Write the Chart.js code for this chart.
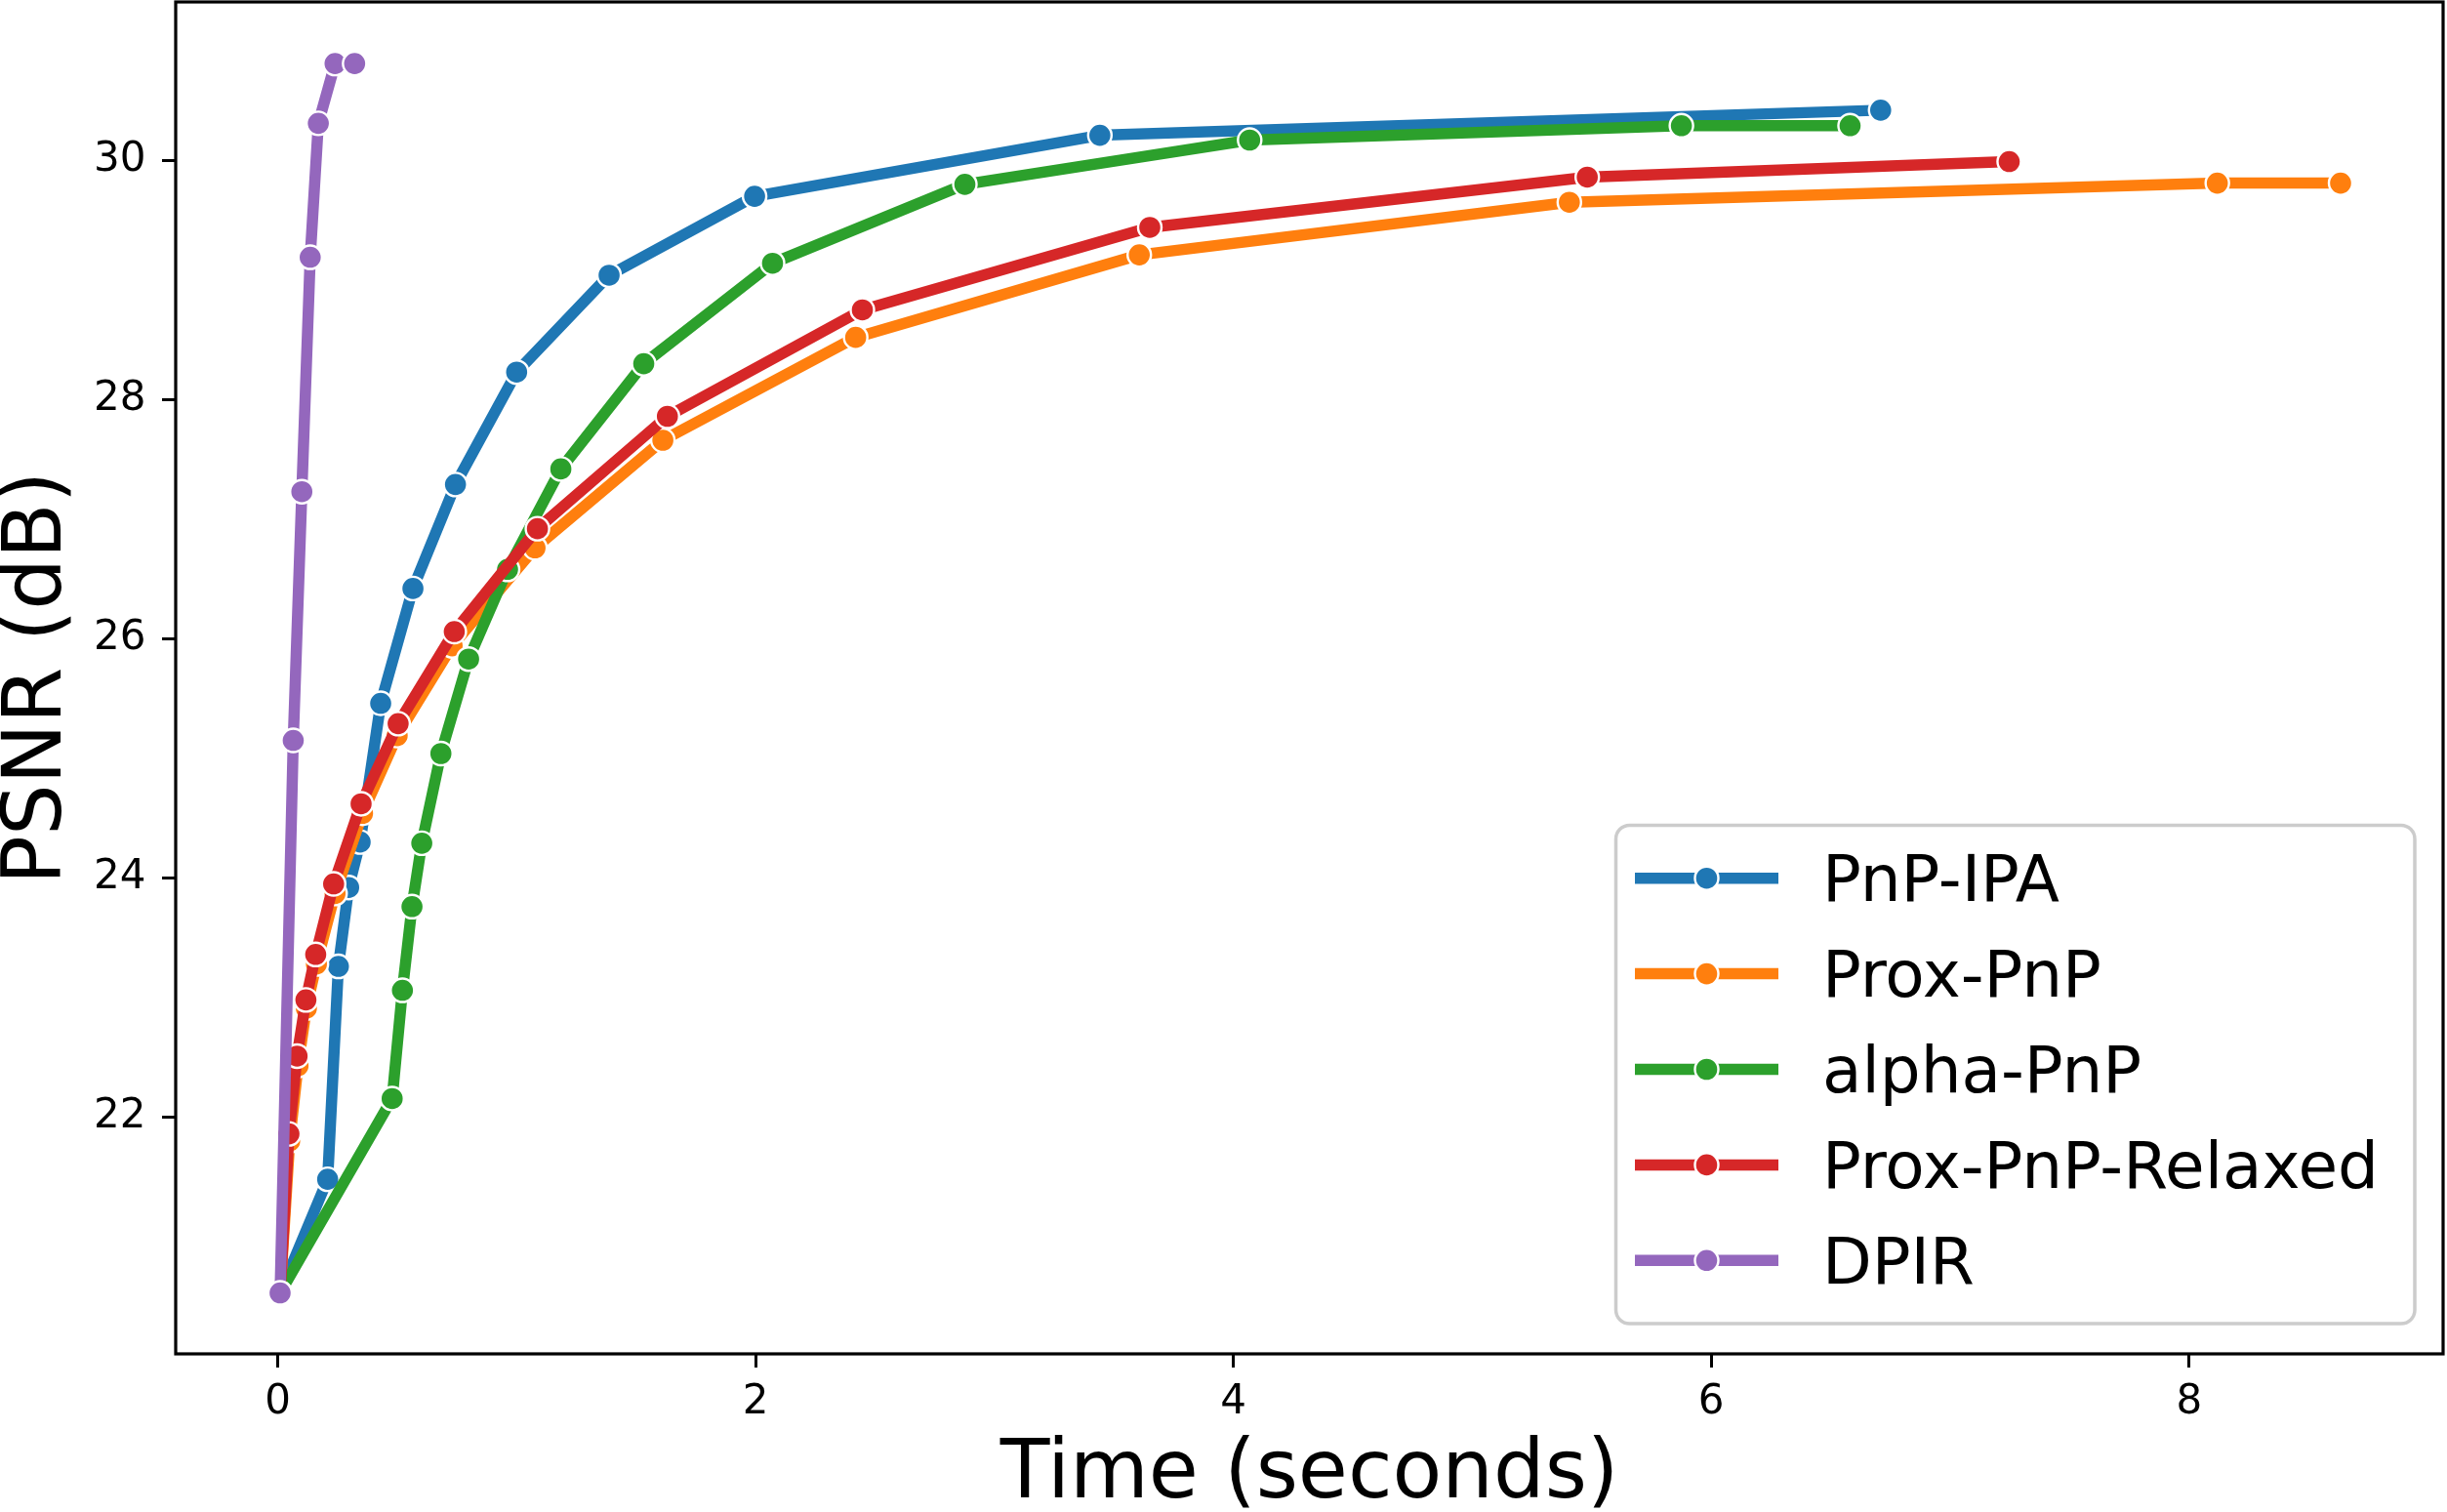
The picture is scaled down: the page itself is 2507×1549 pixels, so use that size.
<!DOCTYPE html>
<html><head><meta charset="utf-8">
<script src="https://cdn.jsdelivr.net/npm/chart.js@4.4.0/dist/chart.umd.min.js"></script>
<style>html,body{margin:0;padding:0;background:#fff;overflow:hidden}canvas{display:block}</style>
</head><body>
<canvas id="c" width="2507" height="1549"></canvas>
<script>
// ---- data ----
const seriesNames = ['PnP-IPA', 'Prox-PnP', 'alpha-PnP', 'Prox-PnP-Relaxed', 'DPIR'];
const ipaTime  = [0.01, 0.209, 0.254, 0.297, 0.345, 0.431, 0.566, 0.744, 1.0, 1.387, 1.996, 3.441, 6.709];
const ipaPsnr  = [20.53, 21.48, 23.26, 23.92, 24.30, 25.46, 26.42, 27.29, 28.23, 29.04, 29.70, 30.21, 30.42];
const proxTime = [0.01, 0.05, 0.085, 0.12, 0.162, 0.24, 0.355, 0.50, 0.73, 1.077, 1.612, 2.419, 3.606, 5.406, 8.118, 8.634];
const proxPsnr = [20.53, 21.80, 22.43, 22.91, 23.28, 23.87, 24.54, 25.19, 25.94, 26.76, 27.66, 28.52, 29.21, 29.65, 29.81, 29.81];
const alphaTime = [0.01, 0.479, 0.522, 0.562, 0.603, 0.683, 0.799, 0.962, 1.185, 1.532, 2.071, 2.876, 4.068, 5.875, 6.581];
const alphaPsnr = [20.53, 22.155, 23.06, 23.76, 24.29, 25.04, 25.83, 26.58, 27.42, 28.30, 29.14, 29.80, 30.17, 30.29, 30.29];
const relaxTime = [0.01, 0.047, 0.081, 0.118, 0.159, 0.234, 0.349, 0.504, 0.739, 1.087, 1.631, 2.447, 3.650, 5.481, 7.247];
const relaxPsnr = [20.53, 21.86, 22.51, 22.98, 23.36, 23.95, 24.62, 25.29, 26.06, 26.92, 27.86, 28.75, 29.44, 29.86, 29.99];
const dpirTime = [0.01, 0.065, 0.101, 0.136, 0.170, 0.240, 0.322];
const dpirPsnr = [20.53, 25.15, 27.23, 29.19, 30.31, 30.81, 30.81];
const xTicks = [0, 2, 4, 6, 8];
const yTicks = [22, 24, 26, 28, 30];

// ---- styles ----
const colors = ['#1f77b4', '#ff7f0e', '#2ca02c', '#d62728', '#9467bd'];
const seriesX = [ipaTime, proxTime, alphaTime, relaxTime, dpirTime];
const seriesY = [ipaPsnr, proxPsnr, alphaPsnr, relaxPsnr, dpirPsnr];

Chart.defaults.font.family = "'DejaVu Sans', sans-serif";
Chart.defaults.color = '#000';

const datasets = seriesNames.map((name, i) => ({
  label: name,
  data: seriesX[i].map((t, k) => ({x: t, y: seriesY[i][k]})),
  borderColor: colors[i],
  backgroundColor: colors[i],
  borderWidth: 11.5,
  borderJoinStyle: 'round',
  borderCapStyle: 'butt',
  pointRadius: 12,
  pointHoverRadius: 12,
  pointBackgroundColor: colors[i],
  pointBorderColor: '#ffffff',
  pointBorderWidth: 2.4,
  tension: 0,
  fill: false,
  order: seriesNames.length - i
}));

const framePlugin = {
  id: 'frame',
  afterDatasetsDraw(chart) {
    const {ctx, chartArea: a} = chart;
    ctx.save();
    ctx.strokeStyle = '#000';
    ctx.lineWidth = 3.2;
    ctx.strokeRect(a.left, a.top, a.right - a.left, a.bottom - a.top);
    ctx.restore();
  }
};

const legendPlugin = {
  id: 'mplLegend',
  afterDraw(chart) {
    const {ctx, chartArea: a} = chart;
    const w = 818.5, h = 510.5;
    const x1 = a.right - 29, y1 = a.bottom - 31;
    const x0 = x1 - w, y0 = y1 - h;
    const r = 14;
    ctx.save();
    ctx.beginPath();
    ctx.moveTo(x0 + r, y0);
    ctx.lineTo(x1 - r, y0);
    ctx.arcTo(x1, y0, x1, y0 + r, r);
    ctx.lineTo(x1, y1 - r);
    ctx.arcTo(x1, y1, x1 - r, y1, r);
    ctx.lineTo(x0 + r, y1);
    ctx.arcTo(x0, y1, x0, y1 - r, r);
    ctx.lineTo(x0, y0 + r);
    ctx.arcTo(x0, y0, x0 + r, y0, r);
    ctx.closePath();
    ctx.fillStyle = 'rgba(255,255,255,0.8)';
    ctx.fill();
    ctx.strokeStyle = '#cccccc';
    ctx.lineWidth = 3.5;
    ctx.stroke();
    chart.data.datasets.forEach((ds, i) => {
      const cy = y0 + 54.2 + i * 97.9;
      ctx.beginPath();
      ctx.moveTo(x0 + 19.5, cy);
      ctx.lineTo(x0 + 166.5, cy);
      ctx.strokeStyle = ds.borderColor;
      ctx.lineWidth = ds.borderWidth;
      ctx.lineCap = 'butt';
      ctx.stroke();
      ctx.beginPath();
      ctx.arc(x0 + 93, cy, ds.pointRadius, 0, Math.PI * 2);
      ctx.fillStyle = ds.pointBackgroundColor;
      ctx.fill();
      ctx.strokeStyle = ds.pointBorderColor;
      ctx.lineWidth = ds.pointBorderWidth;
      ctx.stroke();
      ctx.fillStyle = '#000';
      ctx.font = "66px 'DejaVu Sans'";
      ctx.textAlign = 'left';
      ctx.textBaseline = 'alphabetic';
      ctx.fillText(ds.label, x0 + 211.5, cy + 23.5);
    });
    ctx.restore();
  }
};

new Chart(document.getElementById('c'), {
  type: 'line',
  data: {datasets},
  plugins: [framePlugin, legendPlugin],
  options: {
    responsive: false,
    animation: false,
    events: [],
    layout: {autoPadding: false, padding: {top: 2, right: 4, left: 0, bottom: 0}},
    plugins: {legend: {display: false}, tooltip: {enabled: false}},
    scales: {
      x: {
        type: 'linear',
        min: -0.427,
        max: 9.063,
        afterBuildTicks: s => { s.ticks = xTicks.map(v => ({value: v})); },
        afterFit: s => { s.height = 162; s.paddingLeft = 0; s.paddingRight = 0; },
        border: {display: false},
        grid: {display: true, drawOnChartArea: false, drawTicks: true, tickLength: 14, tickWidth: 3, tickColor: '#000'},
        ticks: {font: {size: 42}, color: '#000', padding: 10.5, maxRotation: 0},
        title: {display: true, text: 'Time (seconds)', font: {size: 83, lineHeight: 0.88}, color: '#000', padding: {top: 0, bottom: 0}}
      },
      y: {
        type: 'linear',
        min: 20.02,
        max: 31.325,
        afterBuildTicks: s => { s.ticks = yTicks.map(v => ({value: v})); },
        afterFit: s => { s.width = 180; s.paddingTop = 0; s.paddingBottom = 0; },
        border: {display: false},
        grid: {display: true, drawOnChartArea: false, drawTicks: true, tickLength: 14, tickWidth: 3, tickColor: '#000'},
        ticks: {font: {size: 42}, color: '#000', padding: 16.5},
        title: {display: true, text: 'PSNR (dB)', font: {size: 83, lineHeight: 0.88}, color: '#000', padding: {top: 4, bottom: 0}}
      }
    }
  }
});
</script>
</body></html>
